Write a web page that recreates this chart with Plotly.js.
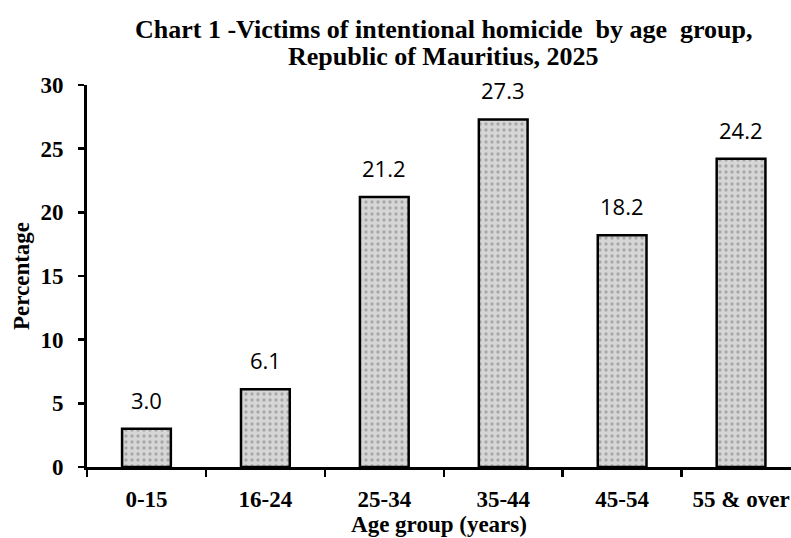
<!DOCTYPE html>
<html>
<head>
<meta charset="utf-8">
<script src="https://cdn.plot.ly/plotly-3.0.1.min.js"></script>
<style>html,body{margin:0;padding:0;background:#fff;}#chart{width:791px;height:538px;}</style>
</head>
<body>
<div id="chart"></div>
<script>
const categories = ["0-15", "16-24", "25-34", "35-44", "45-54", "55 & over"];
const percentages = [3.0, 6.1, 21.2, 27.3, 18.2, 24.2];
const valueLabels = ["3.0", "6.1", "21.2", "27.3", "18.2", "24.2"];
const yTicks = [0, 5, 10, 15, 20, 25, 30];
const titleLine1 = "Chart 1 -Victims of intentional homicide  by age  group,";
const titleLine2 = "Republic of Mauritius, 2025";

const serif = "Liberation Serif, Times New Roman, serif";
const sans = "Open Sans, Liberation Sans, Arial, sans-serif";

const trace = {
  type: "bar",
  x: categories,
  y: percentages,
  width: 0.41,
  marker: {
    color: "#d6d6d6",
    line: {color: "#000", width: 2.5},
    pattern: {shape: ".", bgcolor: "#d6d6d6", fgcolor: "#7a7a7a", size: 6, solidity: 0.25, fillmode: "overlay"}
  },
  hoverinfo: "skip"
};

const annotations = categories.map((c, i) => ({
  x: c, y: percentages[i], text: valueLabels[i], showarrow: false,
  xref: "x", yref: "y", yanchor: "middle", yshift: 29,
  font: {family: sans, size: 22, color: "#000"}
}));
annotations.push({
  x: 0.5064, y: 1.0733, xref: "paper", yref: "paper",
  xanchor: "center", yanchor: "middle", showarrow: false,
  text: "<b>" + titleLine2 + "</b>",
  font: {family: serif, size: 26, color: "#000"}
});

const layout = {
  width: 791, height: 538,
  margin: {l: 87, r: 0, t: 85, b: 71},
  paper_bgcolor: "#fff", plot_bgcolor: "#fff",
  showlegend: false,
  title: {
    text: "<b>" + titleLine1 + "</b>",
    font: {family: serif, size: 26, color: "#000"},
    x: 0.561, xanchor: "center", xref: "container",
    y: 0.946, yanchor: "middle", yref: "container"
  },
  xaxis: {
    type: "category",
    range: [-0.5, 5.42],
    tickson: "boundaries",
    ticks: "outside", ticklen: 7, tickwidth: 2.5, tickcolor: "#000",
    ticklabelstandoff: 9,
    showline: true, linecolor: "#000", linewidth: 3,
    showgrid: false, zeroline: false,
    tickfont: {family: serif, size: 23, color: "#000", weight: "bold"},
    title: {text: "<b>Age group (years)</b>", font: {family: serif, size: 23, color: "#000"}, standoff: 1}
  },
  yaxis: {
    range: [0, 30],
    tickvals: yTicks,
    ticktext: yTicks.map(String),
    ticks: "outside", ticklen: 6, tickwidth: 2.5, tickcolor: "#000",
    ticklabelstandoff: 10,
    showline: true, linecolor: "#000", linewidth: 3,
    showgrid: false, zeroline: false,
    tickfont: {family: serif, size: 23, color: "#000", weight: "bold"},
    title: {text: "<b>Percentage</b>", font: {family: serif, size: 23, color: "#000"}, standoff: 5}
  },
  annotations: annotations,
  bargap: 0.59
};

Plotly.newPlot("chart", [trace], layout, {staticPlot: true, displayModeBar: false});
</script>
</body>
</html>
